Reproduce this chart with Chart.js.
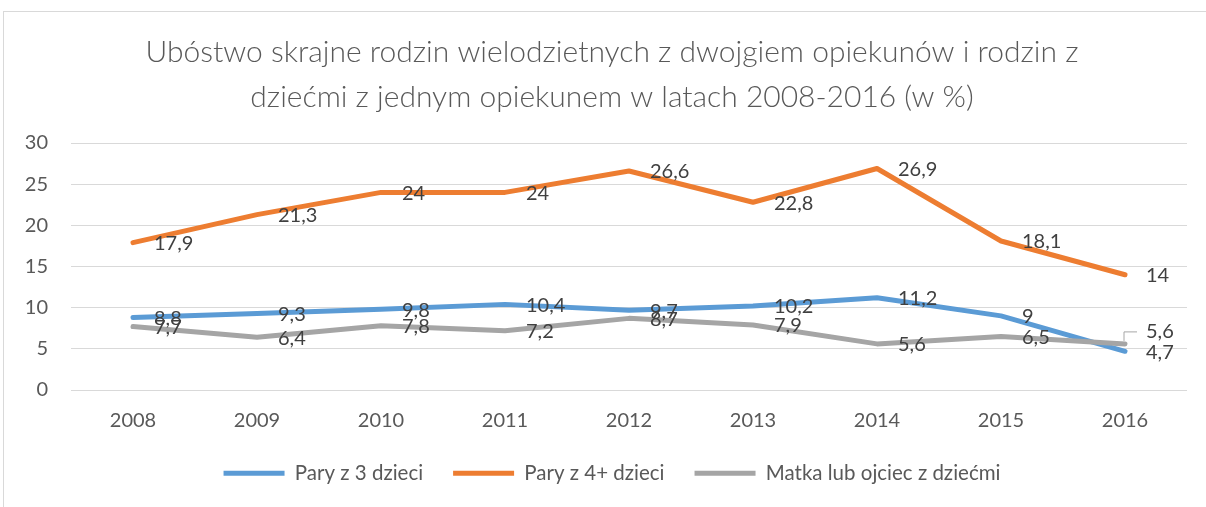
<!DOCTYPE html>
<html lang="pl">
<head>
<meta charset="utf-8">
<title>Ubóstwo skrajne rodzin</title>
<script src="https://cdn.jsdelivr.net/npm/chart.js@4"></script>
<style>
	html, body { margin: 0; padding: 0; background: #ffffff; overflow: hidden; }
	#wrap { position: relative; width: 1206px; height: 507px; }
	#frame { position: absolute; left: 3px; top: 11px; width: 1300px; height: 600px; border: 1px solid #d9d9d9; box-sizing: border-box; }
	#chart { position: absolute; left: 0; top: 0; }
</style>
</head>
<body>
<div id="wrap">
	<div id="frame"></div>
	<canvas id="chart" width="1206" height="507"></canvas>
</div>
<script>
"use strict";

// data
const years = ["2008", "2009", "2010", "2011", "2012", "2013", "2014", "2015", "2016"];
const pary3 = [8.8, 9.3, 9.8, 10.4, 9.7, 10.2, 11.2, 9, 4.7];
const pary4 = [17.9, 21.3, 24, 24, 26.6, 22.8, 26.9, 18.1, 14];
const samotni = [7.7, 6.4, 7.8, 7.2, 8.7, 7.9, 5.6, 6.5, 5.6];
const seriesNames = ["Pary z 3 dzieci", "Pary z 4+ dzieci", "Matka lub ojciec z dziećmi"];
const titleLines = [
	"Ubóstwo skrajne rodzin wielodzietnych z dwojgiem opiekunów i rodzin z",
	"dziećmi z jednym opiekunem w latach 2008-2016 (w %)"
];

const FONT = "Lato, 'Noto Sans', sans-serif";
const TEXT = "#595959";

// data labels, placed right of each point like the Excel default
const valueLabels = {
	id: "valueLabels",
	afterDatasetsDraw: function (chart) {
		const ctx = chart.ctx;
		ctx.save();
		ctx.font = "20px " + FONT;
		ctx.fillStyle = "#404040";
		ctx.textAlign = "left";
		ctx.textBaseline = "middle";
		chart.data.datasets.forEach(function (ds, i) {
			const meta = chart.getDatasetMeta(i);
			meta.data.forEach(function (pt, j) {
				const txt = String(ds.data[j]).replace(".", ",");
				let dy = 1;
				// last grey label was moved up with a leader line
				if (i === 2 && j === ds.data.length - 1) {
					dy = -12;
					ctx.save();
					ctx.strokeStyle = "#a6a6a6";
					ctx.lineWidth = 1;
					ctx.beginPath();
					ctx.moveTo(pt.x - 1, pt.y - 3);
					ctx.lineTo(pt.x - 1, pt.y + dy);
					ctx.lineTo(pt.x + 12, pt.y + dy);
					ctx.stroke();
					ctx.restore();
				}
				ctx.fillText(txt, pt.x + 21, pt.y + dy);
			});
		});
		ctx.restore();
	}
};

function lineSet(label, data, color, order) {
	return {
		label: label,
		data: data,
		borderColor: color,
		backgroundColor: color,
		borderWidth: 5,
		borderCapStyle: "round",
		borderJoinStyle: "round",
		pointRadius: 0,
		pointHoverRadius: 0,
		tension: 0,
		fill: false,
		order: order
	};
}

const chart = new Chart(document.getElementById("chart"), {
	type: "line",
	data: {
		labels: years,
		datasets: [
			lineSet(seriesNames[0], pary3, "#5B9BD5", 2),
			lineSet(seriesNames[1], pary4, "#ED7D31", 1),
			lineSet(seriesNames[2], samotni, "#A5A5A5", 0)
		]
	},
	options: {
		responsive: false,
		animation: false,
		layout: {
			padding: { left: 20, right: 2, top: 10, bottom: 13.5 }
		},
		scales: {
			x: {
				offset: true,
				grid: { display: false },
				border: { display: false },
				ticks: {
					color: TEXT,
					font: { family: FONT, size: 20 },
					padding: 11,
					maxRotation: 0
				},
				afterFit: function (scale) { scale.height = 43; }
			},
			y: {
				min: 0,
				max: 30,
				ticks: {
					stepSize: 5,
					color: TEXT,
					font: { family: FONT, size: 20 },
					padding: 23
				},
				grid: { color: "#d9d9d9", lineWidth: 1, drawTicks: false },
				border: { display: false },
				afterFit: function (scale) { scale.width = 51; }
			},
			// empty right-hand axis, only keeps the plot clear of the right edge
			yRight: {
				position: "right",
				grid: { display: false },
				border: { display: false },
				ticks: { display: false },
				afterFit: function (scale) { scale.width = 17; }
			}
		},
		plugins: {
			title: {
				display: true,
				text: titleLines,
				color: TEXT,
				font: { family: FONT, size: 30, weight: 300, lineHeight: 1.5 },
				padding: { top: 20, bottom: 23 }
			},
			legend: {
				position: "bottom",
				labels: {
					color: TEXT,
					font: { family: FONT, size: 20.5 },
					usePointStyle: true,
					pointStyle: "line",
					pointStyleWidth: 61,
					padding: 30,
					sort: function (a, b) { return a.datasetIndex - b.datasetIndex; }
				}
			},
			tooltip: { enabled: false }
		}
	},
	plugins: [valueLabels]
});
</script>
</body>
</html>
